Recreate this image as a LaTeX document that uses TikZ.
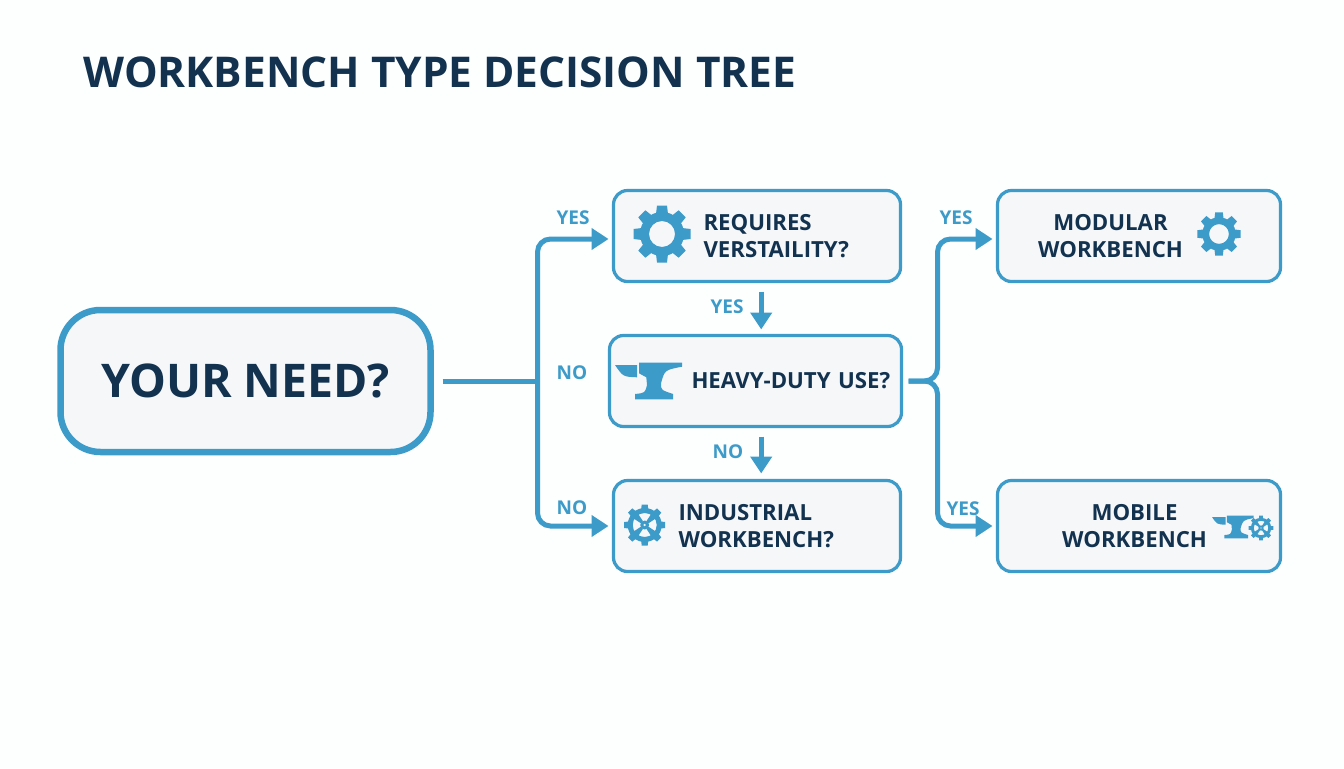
\documentclass[tikz,border=0pt]{standalone}
\usepackage{fontspec}
\setmainfont{Open Sans}
\usetikzlibrary{arrows.meta, positioning}
\definecolor{linkblue}{HTML}{3D9BC9}
\definecolor{inkblue}{HTML}{12324F}
\definecolor{paper}{HTML}{FDFEFE}
\definecolor{boxfill}{HTML}{F5F7F9}
\tikzset{
  box/.style={draw=linkblue, fill=boxfill, line width=1.6pt, rounded corners=7pt, outer sep=0pt,
    inner xsep=0pt, text=inkblue, font=\fontsize{11.1}{13.5}\selectfont\bfseries, minimum height=45.5pt},
  leftpad/.style={align=left, execute at begin node={\leftskip=#1\relax}},
  midpad/.style={align=center, execute at begin node={\leftskip=0pt plus 1fil\relax\rightskip=#1 plus 1fil\relax}},
  tag/.style={text=linkblue, inner sep=0pt, font=\fontsize{9.5}{9.5}\selectfont\bfseries},
  link/.style={draw=linkblue, line width=2.5pt, rounded corners=6.5pt},
  arrow/.style={link, -{Triangle[length=8.5pt,width=10.5pt]}},
  gearicon/.pic={
    \fill[linkblue, even odd rule] (0,0) circle (22) (0,0) circle (13);
    \foreach \a in {0,45,...,315}
      \fill[linkblue, rotate=\a] (-6,20) -- (-5,28.5) -- (5,28.5) -- (6,20) -- cycle;
  },
  wheelicon/.pic={
    \fill[linkblue, even odd rule] (0,0) circle (17) (0,0) circle (12);
    \fill[linkblue, even odd rule] (0,0) circle (4.5) (0,0) circle (1.5);
    \foreach \a in {0,45,...,315}
      \fill[linkblue, rotate=\a] (-3.5,16) -- (-3,20.5) -- (3,20.5) -- (3.5,16) -- cycle;
    \foreach \a in {45,135,225,315}
      \fill[linkblue, rotate=\a] (-1.5,4) -- (-3.5,14) -- (3.5,14) -- (1.5,4) -- cycle;
  },
  anvilicon/.pic={
    \fill[linkblue] (-33,16) -- (-11,16) -- (-11,3.7) .. controls (-25,4.3) .. cycle;
    \fill[linkblue] (-9,18.3) -- (34,18.3) -- (34,14.3) .. controls (16.7,11) .. (13,-2.3)
      .. controls (13,-9) .. (25,-13) -- (25,-18.3) -- (-13,-18.3) -- (-13,-13)
      .. controls (-3,-12) .. (-1,-4) -- (-1.7,3.7) .. controls (-5,6) .. (-9,7.7) -- cycle;
  },
}
\begin{document}
\begin{tikzpicture}[x=.5pt, y=.5pt]
  \useasboundingbox[fill=paper] (0,0) rectangle (1344,768);

  \node[text=inkblue, inner sep=0pt, anchor=west, font=\fontsize{21.2}{21.2}\selectfont\bfseries] (title) at (83,696) {WORKBENCH TYPE DECISION TREE};

  \node[box, line width=3.25pt, rounded corners=20pt, minimum width=185pt, minimum height=71pt, font=\fontsize{23.2}{23.2}\selectfont\bfseries] (need) at (245.5,387) {YOUR NEED?};
  \node[box, text width=146pt, leftpad=41pt] (heavy) [right=89.5pt of need] {HEAVY-DUTY USE?};
  \node[box, text width=143.5pt, leftpad=45pt] (req) [above=27pt of heavy, xshift=.75pt] {REQUIRES\\VERSTAILITY?};
  \node[box, text width=143.5pt, leftpad=32.5pt] (ind) [below=27pt of heavy, xshift=.75pt] {INDUSTRIAL\\WORKBENCH?};
  \node[box, text width=141.5pt, midpad=28.5pt] (mod) [right=48.5pt of req] {MODULAR\\WORKBENCH};
  \node[box, text width=141.5pt, midpad=4.5pt] (mob) [right=48.5pt of ind] {MOBILE\\WORKBENCH};

  \pic at (662,534) {gearicon};
  \pic at (648,387) {anvilicon};
  \pic at (644.7,243) {wheelicon};
  \pic[scale=.76] at (1219,534) {gearicon};
  \pic[scale=.62] at (1232.5,241) {anvilicon};
  \pic[scale=.6] at (1261,240) {wheelicon};

  \coordinate[left=36pt of heavy.west] (splitl);
  \coordinate[right=18pt of heavy.east] (splitr);

  \draw[link, shorten <=6pt] (need.east) -- (splitl);
  \draw[arrow, shorten >=2.5pt] (splitl) |- ([yshift=-1.5pt]req.west);
  \draw[arrow, shorten >=2.5pt] (splitl) |- (ind.west);
  \draw[arrow, shorten <=5pt, shorten >=3pt] ([xshift=2.1pt]req.south) -- ([xshift=2.85pt]heavy.north);
  \draw[arrow, shorten <=5pt, shorten >=3.5pt] ([xshift=2.85pt]heavy.south) -- ([xshift=2.1pt]ind.north);
  \draw[arrow, shorten <=3.5pt, shorten >=2.5pt] (heavy.east) -- (splitr) |- ([yshift=-1.5pt]mod.west);
  \draw[arrow, shorten <=3.5pt, shorten >=2.5pt] (heavy.east) -- (splitr) |- (mob.west);

  \node[tag] (yesreq) at (573,550) {YES};
  \node[tag] (noheavy) at (572,395) {NO};
  \node[tag] (noind) at (572,260) {NO};
  \node[tag] (yesdown) at (727,461) {YES};
  \node[tag] (nodown) at (728,316) {NO};
  \node[tag] (yesmod) at (956,550) {YES};
  \node[tag] (yesmob) at (963,259) {YES};
\end{tikzpicture}
\end{document}
